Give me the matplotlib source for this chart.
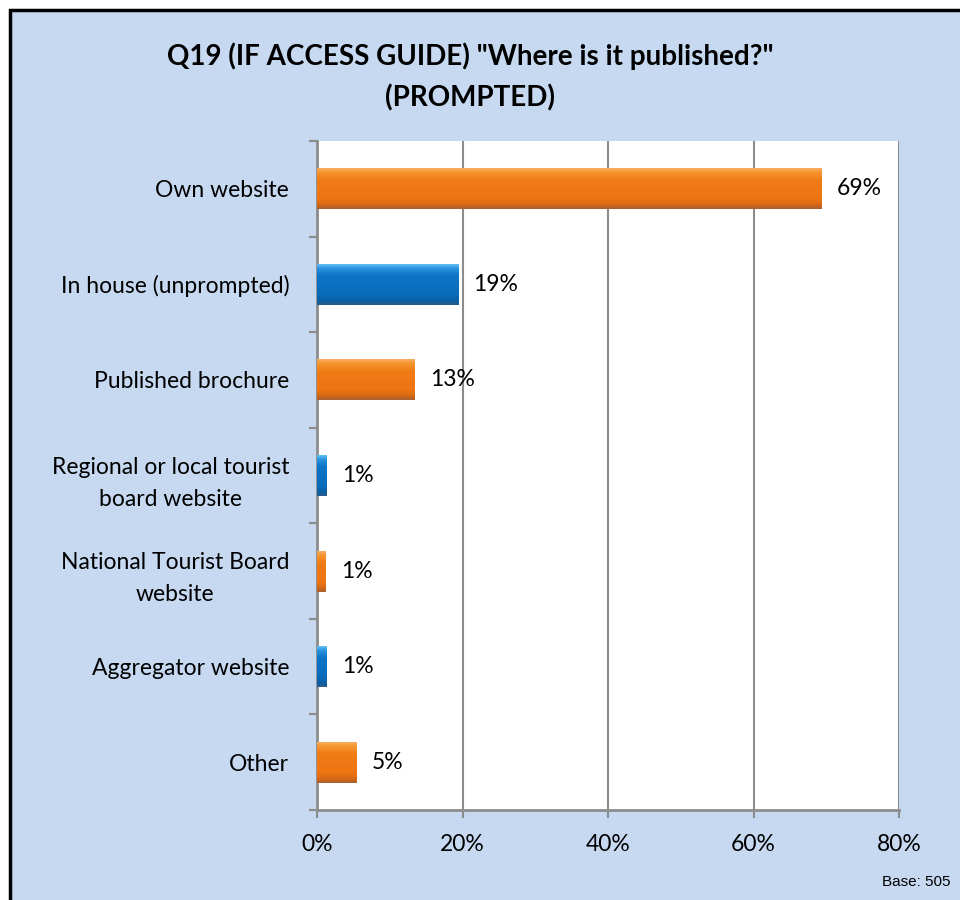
import numpy as np
import matplotlib.pyplot as plt
from matplotlib.colors import LinearSegmentedColormap
from matplotlib.patches import Rectangle

categories = ['Own website', 'In house (unprompted)', 'Published brochure',
              'Regional or local tourist\nboard website',
              'National Tourist Board\nwebsite', 'Aggregator website', 'Other']
values = [69.4, 19.4, 13.4, 1.3, 1.2, 1.3, 5.4]
bar_kind = ['orange', 'blue', 'orange', 'blue', 'orange', 'blue', 'orange']
x_ticks = [0, 20, 40, 60, 80]
x_tick_labels = ['0%', '20%', '40%', '60%', '80%']

title = 'Q19 (IF ACCESS GUIDE) "Where is it published?"\n(PROMPTED)'
base_note = 'Base: 505'

BG = '#C6D9F1'
FONT = 'Lato'
FS = 16.5

# vertical colour profile (top -> bottom) for the bevelled bars
gradients = {
    'orange': LinearSegmentedColormap.from_list('org', [
        (0.0, '#F9B36E'), (0.12, '#F6952F'), (0.3, '#F07C16'),
        (0.75, '#EE7512'), (0.9, '#D86A14'), (1.0, '#A9602F')]),
    'blue': LinearSegmentedColormap.from_list('blu', [
        (0.0, '#6FC8F8'), (0.12, '#2994DF'), (0.3, '#0C74C6'),
        (0.75, '#0A6CBA'), (0.9, '#0A5FA4'), (1.0, '#2A5D8A')]),
}
solid = {'orange': '#F07A14', 'blue': '#0C70C2'}

fig = plt.figure(figsize=(9.6, 9), dpi=100, facecolor='white')

# blue panel with black frame (cut off at right/bottom like the source)
fig.patches.append(Rectangle((9.5 / 960, -0.05), 1.1, 1 - 9.5 / 900 + 0.05,
                             transform=fig.transFigure, facecolor=BG,
                             edgecolor='black', linewidth=2.5, zorder=-5))

ax = fig.add_axes([317 / 960, 0.1, (899 - 317) / 960, (810 - 141) / 900])
ax.set_facecolor('white')

n = len(categories)
ypos = np.arange(n)
bar_h = 0.43
bars = ax.barh(ypos, values, height=bar_h, color=[solid[k] for k in bar_kind],
               zorder=3)

grad = np.linspace(0, 1, 64).reshape(-1, 1)
for b, kind in zip(bars, bar_kind):
    x0, y0 = b.get_x(), b.get_y()
    w, h = b.get_width(), b.get_height()
    im = ax.imshow(grad, cmap=gradients[kind], aspect='auto',
                   extent=[x0, x0 + w, y0 + h, y0], origin='upper',
                   zorder=4, interpolation='bilinear')
    im.set_clip_path(b)

for yv, v in zip(ypos, values):
    ax.annotate(f'{v:.0f}%', (v, yv), xytext=(11, 0), textcoords='offset points',
                va='center', ha='left', fontsize=FS, family=FONT, color='black')

ax.set_xlim(0, 80)
ax.set_ylim(n - 0.5, -0.5)

ax.set_xticks(x_ticks)
ax.set_xticklabels(x_tick_labels, family=FONT, fontsize=FS)
ax.xaxis.grid(True, color='#8C8C8C', linewidth=1.5, zorder=1)
ax.set_axisbelow(True)

ax.set_yticks(ypos)
ax.set_yticklabels(categories, family=FONT, fontsize=FS)
for lab in ax.get_yticklabels():
    lab.set_multialignment('center')
    lab.set_linespacing(1.65)
ax.set_yticks(np.arange(-0.5, n, 1.0), minor=True)
ax.tick_params(axis='y', which='major', length=0, pad=20)
ax.tick_params(axis='y', which='minor', length=6, width=1.5, color='#8C8C8C')
ax.tick_params(axis='x', length=6, width=1.5, color='#8C8C8C', pad=11)

for side in ['top', 'right']:
    ax.spines[side].set_visible(False)
for side in ['left', 'bottom']:
    ax.spines[side].set_color('#8C8C8C')
    ax.spines[side].set_linewidth(2)

fig.text(0.49, 0.915, title, ha='center', va='center', fontsize=20,
         fontweight='bold', family=FONT, linespacing=1.65)
fig.text(0.99, 0.02, base_note, ha='right', va='center', fontsize=11,
         family='Liberation Sans')

fig.savefig('out.png', dpi=100, facecolor=fig.get_facecolor())
